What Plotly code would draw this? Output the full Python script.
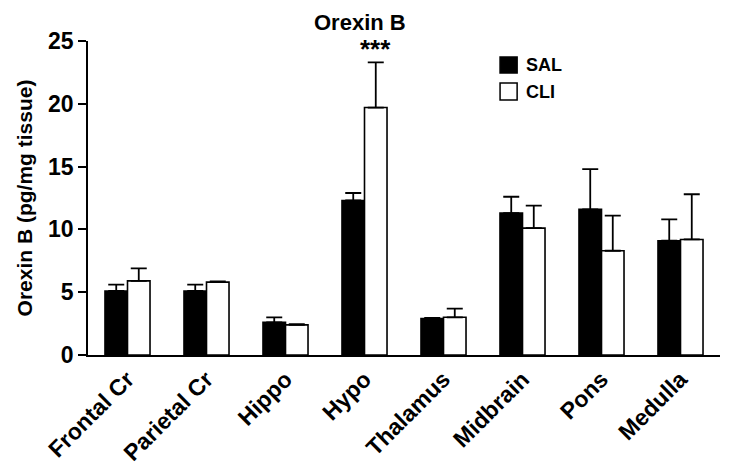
import plotly.graph_objects as go

categories = ["Frontal Cr", "Parietal Cr", "Hippo", "Hypo", "Thalamus", "Midbrain", "Pons", "Medulla"]
sal_values = [5.1, 5.1, 2.6, 12.3, 2.9, 11.3, 11.6, 9.1]
sal_err = [0.5, 0.5, 0.4, 0.6, 0.05, 1.3, 3.2, 1.7]
cli_values = [5.9, 5.8, 2.4, 19.7, 3.0, 10.1, 8.3, 9.2]
cli_err = [1.0, 0.05, 0.05, 3.6, 0.7, 1.8, 2.8, 3.6]
y_ticks = [0, 5, 10, 15, 20, 25]
series_names = ["SAL", "CLI"]
series_fill = ["black", "white"]

FONT = "Arial, Liberation Sans, sans-serif"

fig = go.Figure()
for name, fill, vals, errs in [(series_names[0], series_fill[0], sal_values, sal_err),
                               (series_names[1], series_fill[1], cli_values, cli_err)]:
    fig.add_trace(go.Bar(
        name=name, x=categories, y=vals,
        marker=dict(color=fill, line=dict(color="black", width=1.6)),
        error_y=dict(type="data", symmetric=False, array=errs, arrayminus=[0]*len(errs),
                     color="black", thickness=1.8, width=8),
        showlegend=False,
    ))

# significance marker
fig.add_annotation(x="Hypo", y=cli_values[3] + cli_err[3], xref="x", yref="y", text="<b>***</b>",
                   showarrow=False, xshift=11, yshift=13,
                   font=dict(family=FONT, size=26, color="black"))

# manual legend (large squares like the reference)
legend_rows = [(0.949, 0.898), (0.866, 0.812)]
for (y1, y0), name, fill in zip(legend_rows, series_names, series_fill):
    fig.add_shape(type="rect", xref="paper", yref="paper", x0=0.652, x1=0.679, y0=y0, y1=y1,
                  fillcolor=fill, line=dict(color="black", width=1.5))
    fig.add_annotation(xref="paper", yref="paper", x=0.690, y=(y0 + y1) / 2, text=f"<b>{name}</b>",
                       showarrow=False, xanchor="left", yanchor="middle",
                       font=dict(family=FONT, size=18, color="black"))

fig.update_layout(
    width=721, height=463,
    paper_bgcolor="white", plot_bgcolor="white",
    margin=dict(l=80, r=9, t=33, b=116, pad=0),
    barmode="group", bargap=0.43, bargroupgap=0,
    title=dict(text="<b>Orexin B</b>", x=0.488, xanchor="center", y=0.985, yanchor="top",
               font=dict(family=FONT, size=22, color="black")),
    font=dict(family=FONT, color="black"),
    showlegend=False,
)
fig.update_yaxes(
    range=[0, 25], tickvals=y_ticks, ticktext=[f"<b>{v}</b>" for v in y_ticks],
    showline=True, linecolor="black", linewidth=1.5,
    ticks="outside", ticklen=8, tickwidth=1.5, tickcolor="black",
    showgrid=False, zeroline=False, automargin=False,
    tickfont=dict(family=FONT, size=23, color="black"),
    title=dict(text="<b>Orexin B (pg/mg tissue)</b>", font=dict(family=FONT, size=21, color="black"),
               standoff=10),
)
fig.update_xaxes(
    showline=True, linecolor="black", linewidth=1.5, ticks="", automargin=False,
    tickangle=-45, tickvals=categories, ticktext=[f"<b>{c}</b>" for c in categories],
    tickfont=dict(family=FONT, size=23, color="black"),
    showgrid=False,
)

fig.write_html("out.html")
